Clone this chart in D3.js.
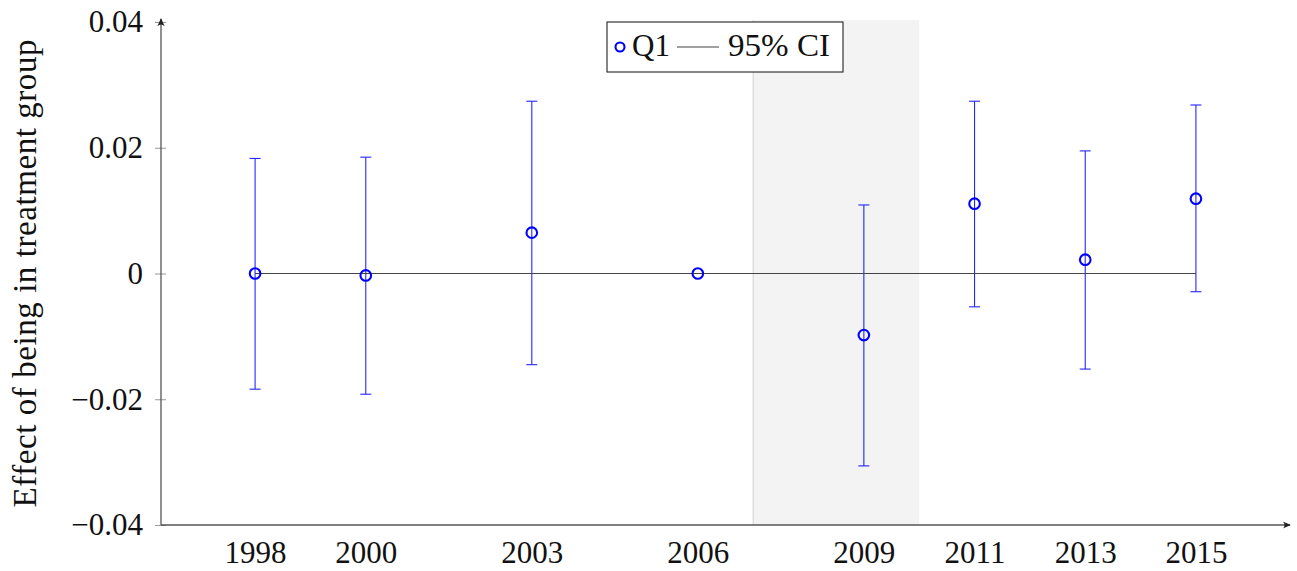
<!DOCTYPE html>
<html>
<head>
<meta charset="utf-8">
<script src="https://cdn.jsdelivr.net/npm/d3@7"></script>
<style>
  body { margin: 0; background: #fff; }
  text { font-family: "Liberation Serif", "DejaVu Serif", serif; }
</style>
</head>
<body>
<div id="chart"></div>
<script>
// data ---------------------------------------------------------------
const years    = [1998, 2000, 2003, 2006, 2009, 2011, 2013, 2015];
const estimate = [0.0000, -0.0003, 0.0065, 0.0000, -0.0098, 0.0111, 0.0022, 0.0119];
const ciLow    = [-0.0184, -0.0192, -0.0145, null, -0.0306, -0.0053, -0.0152, -0.0029];
const ciHigh   = [0.0183, 0.0185, 0.0274, null, 0.0109, 0.0274, 0.0195, 0.0268];
const yTicks   = [-0.04, -0.02, 0, 0.02, 0.04];
const shade    = [2007, 2010];
const seriesName = 'Q1';
const ciName = '95% CI';

// size ---------------------------------------------------------------
const width = 1297, height = 571;
const margin = { top: 22, bottom: 46, left: 161, right: 7 };
const fontSize = 31;

const svg = d3.select('#chart').append('svg')
  .attr('width', width)
  .attr('height', height);

// scales -------------------------------------------------------------
const xScale = d3.scaleLinear()
  .domain([1996.3, 2016.7])
  .range([margin.left, width - margin.right]);
const yScale = d3.scaleLinear()
  .domain([-0.04, 0.04])
  .range([height - margin.bottom, margin.top]);

const blue = '#0000ff';
const axisColor = '#555';

// shaded period -------------------------------------------------------
svg.append('rect')
  .attr('x', xScale(shade[0]))
  .attr('y', yScale(0.04) - 2)
  .attr('width', xScale(shade[1]) - xScale(shade[0]))
  .attr('height', yScale(-0.04) - yScale(0.04) + 2)
  .attr('fill', '#f3f3f3');
svg.append('line')
  .attr('x1', xScale(shade[0])).attr('x2', xScale(shade[0]))
  .attr('y1', yScale(0.04) - 2).attr('y2', yScale(-0.04))
  .attr('stroke', '#d8d8d8')
  .attr('stroke-width', 1.2);

// arrow marker ---------------------------------------------------------
svg.append('defs').append('marker')
  .attr('id', 'arrow')
  .attr('viewBox', '0 0 10 10')
  .attr('refX', 9).attr('refY', 5)
  .attr('markerWidth', 9).attr('markerHeight', 9)
  .attr('markerUnits', 'userSpaceOnUse')
  .attr('orient', 'auto')
  .append('path')
  .attr('d', 'M1,1 Q5,5 1,9 L10,5 Z')
  .attr('fill', '#222');

// y axis -------------------------------------------------------------
const yAxis = svg.append('g')
  .attr('transform', 'translate(' + margin.left + ',0)')
  .call(d3.axisLeft(yScale)
    .tickValues(yTicks)
    .tickSize(6)
    .tickPadding(12)
    .tickFormat(d => d === 0 ? '0' : d3.format('.2f')(d).replace('-', '\u2212')));
yAxis.select('.domain').remove();
yAxis.selectAll('.tick line')
  .attr('x1', 5)
  .attr('stroke', '#999').attr('stroke-width', 1);
yAxis.selectAll('.tick text')
  .attr('font-size', fontSize + 'px')
  .attr('fill', '#111');

svg.append('line')
  .attr('x1', margin.left).attr('x2', margin.left)
  .attr('y1', yScale(-0.04)).attr('y2', yScale(0.04) - 3)
  .attr('stroke', axisColor).attr('stroke-width', 1.3)
  .attr('marker-end', 'url(#arrow)');

// x axis -------------------------------------------------------------
const xAxis = svg.append('g')
  .attr('transform', 'translate(0,' + yScale(-0.04) + ')')
  .call(d3.axisBottom(xScale)
    .tickValues(years)
    .tickSize(0)
    .tickPadding(16)
    .tickFormat(d3.format('d')));
xAxis.select('.domain').remove();
xAxis.selectAll('.tick text')
  .attr('font-size', fontSize + 'px')
  .attr('fill', '#111');

svg.append('line')
  .attr('x1', margin.left).attr('x2', width - margin.right)
  .attr('y1', yScale(-0.04)).attr('y2', yScale(-0.04))
  .attr('stroke', axisColor).attr('stroke-width', 1.3)
  .attr('marker-end', 'url(#arrow)');

// y label ------------------------------------------------------------
svg.append('text')
  .attr('transform', 'translate(36,' + yScale(0) + ') rotate(-90)')
  .attr('text-anchor', 'middle')
  .attr('font-size', '33px')
  .attr('textLength', 468)
  .attr('lengthAdjust', 'spacing')
  .attr('fill', '#111')
  .text('Effect of being in treatment group');

// data rows ----------------------------------------------------------
const rows = years.map((y, i) => ({ year: y, est: estimate[i], lo: ciLow[i], hi: ciHigh[i] }));
const ciRows = rows.filter(d => d.lo !== null);

// error bars
const ci = svg.append('g').attr('stroke', blue).attr('stroke-width', 1.1).attr('opacity', 0.85);
ci.selectAll('.ci-v').data(ciRows).enter().append('line')
  .attr('x1', d => xScale(d.year)).attr('x2', d => xScale(d.year))
  .attr('y1', d => yScale(d.lo)).attr('y2', d => yScale(d.hi));
ci.selectAll('.ci-top').data(ciRows).enter().append('line')
  .attr('x1', d => xScale(d.year) - 5.5).attr('x2', d => xScale(d.year) + 5.5)
  .attr('y1', d => yScale(d.hi)).attr('y2', d => yScale(d.hi));
ci.selectAll('.ci-bot').data(ciRows).enter().append('line')
  .attr('x1', d => xScale(d.year) - 5.5).attr('x2', d => xScale(d.year) + 5.5)
  .attr('y1', d => yScale(d.lo)).attr('y2', d => yScale(d.lo));

// zero line
svg.append('line')
  .attr('x1', xScale(years[0])).attr('x2', xScale(years[years.length - 1]))
  .attr('y1', yScale(0)).attr('y2', yScale(0))
  .attr('stroke', '#444').attr('stroke-width', 1.2);

// markers
svg.selectAll('.pt').data(rows).enter().append('circle')
  .attr('cx', d => xScale(d.year))
  .attr('cy', d => yScale(d.est))
  .attr('r', 5.3)
  .attr('fill', 'none')
  .attr('stroke', blue)
  .attr('stroke-width', 2.1);

// legend -------------------------------------------------------------
const lg = svg.append('g').attr('transform', 'translate(607,22)');
lg.append('rect')
  .attr('width', 236).attr('height', 50)
  .attr('fill', '#fff')
  .attr('stroke', '#222').attr('stroke-width', 1.1);
lg.append('circle')
  .attr('cx', 13).attr('cy', 25).attr('r', 4.5)
  .attr('fill', 'none').attr('stroke', blue).attr('stroke-width', 2.1);
lg.append('text')
  .attr('x', 25).attr('y', 34)
  .attr('font-size', fontSize + 'px').attr('fill', '#111')
  .attr('textLength', 38).attr('lengthAdjust', 'spacingAndGlyphs')
  .text(seriesName);
lg.append('line')
  .attr('x1', 70).attr('x2', 112)
  .attr('y1', 25).attr('y2', 25)
  .attr('stroke', '#444').attr('stroke-width', 1.1);
lg.append('text')
  .attr('x', 121).attr('y', 34)
  .attr('font-size', fontSize + 'px').attr('fill', '#111')
  .attr('textLength', 102).attr('lengthAdjust', 'spacingAndGlyphs')
  .text(ciName);
</script>
</body>
</html>
